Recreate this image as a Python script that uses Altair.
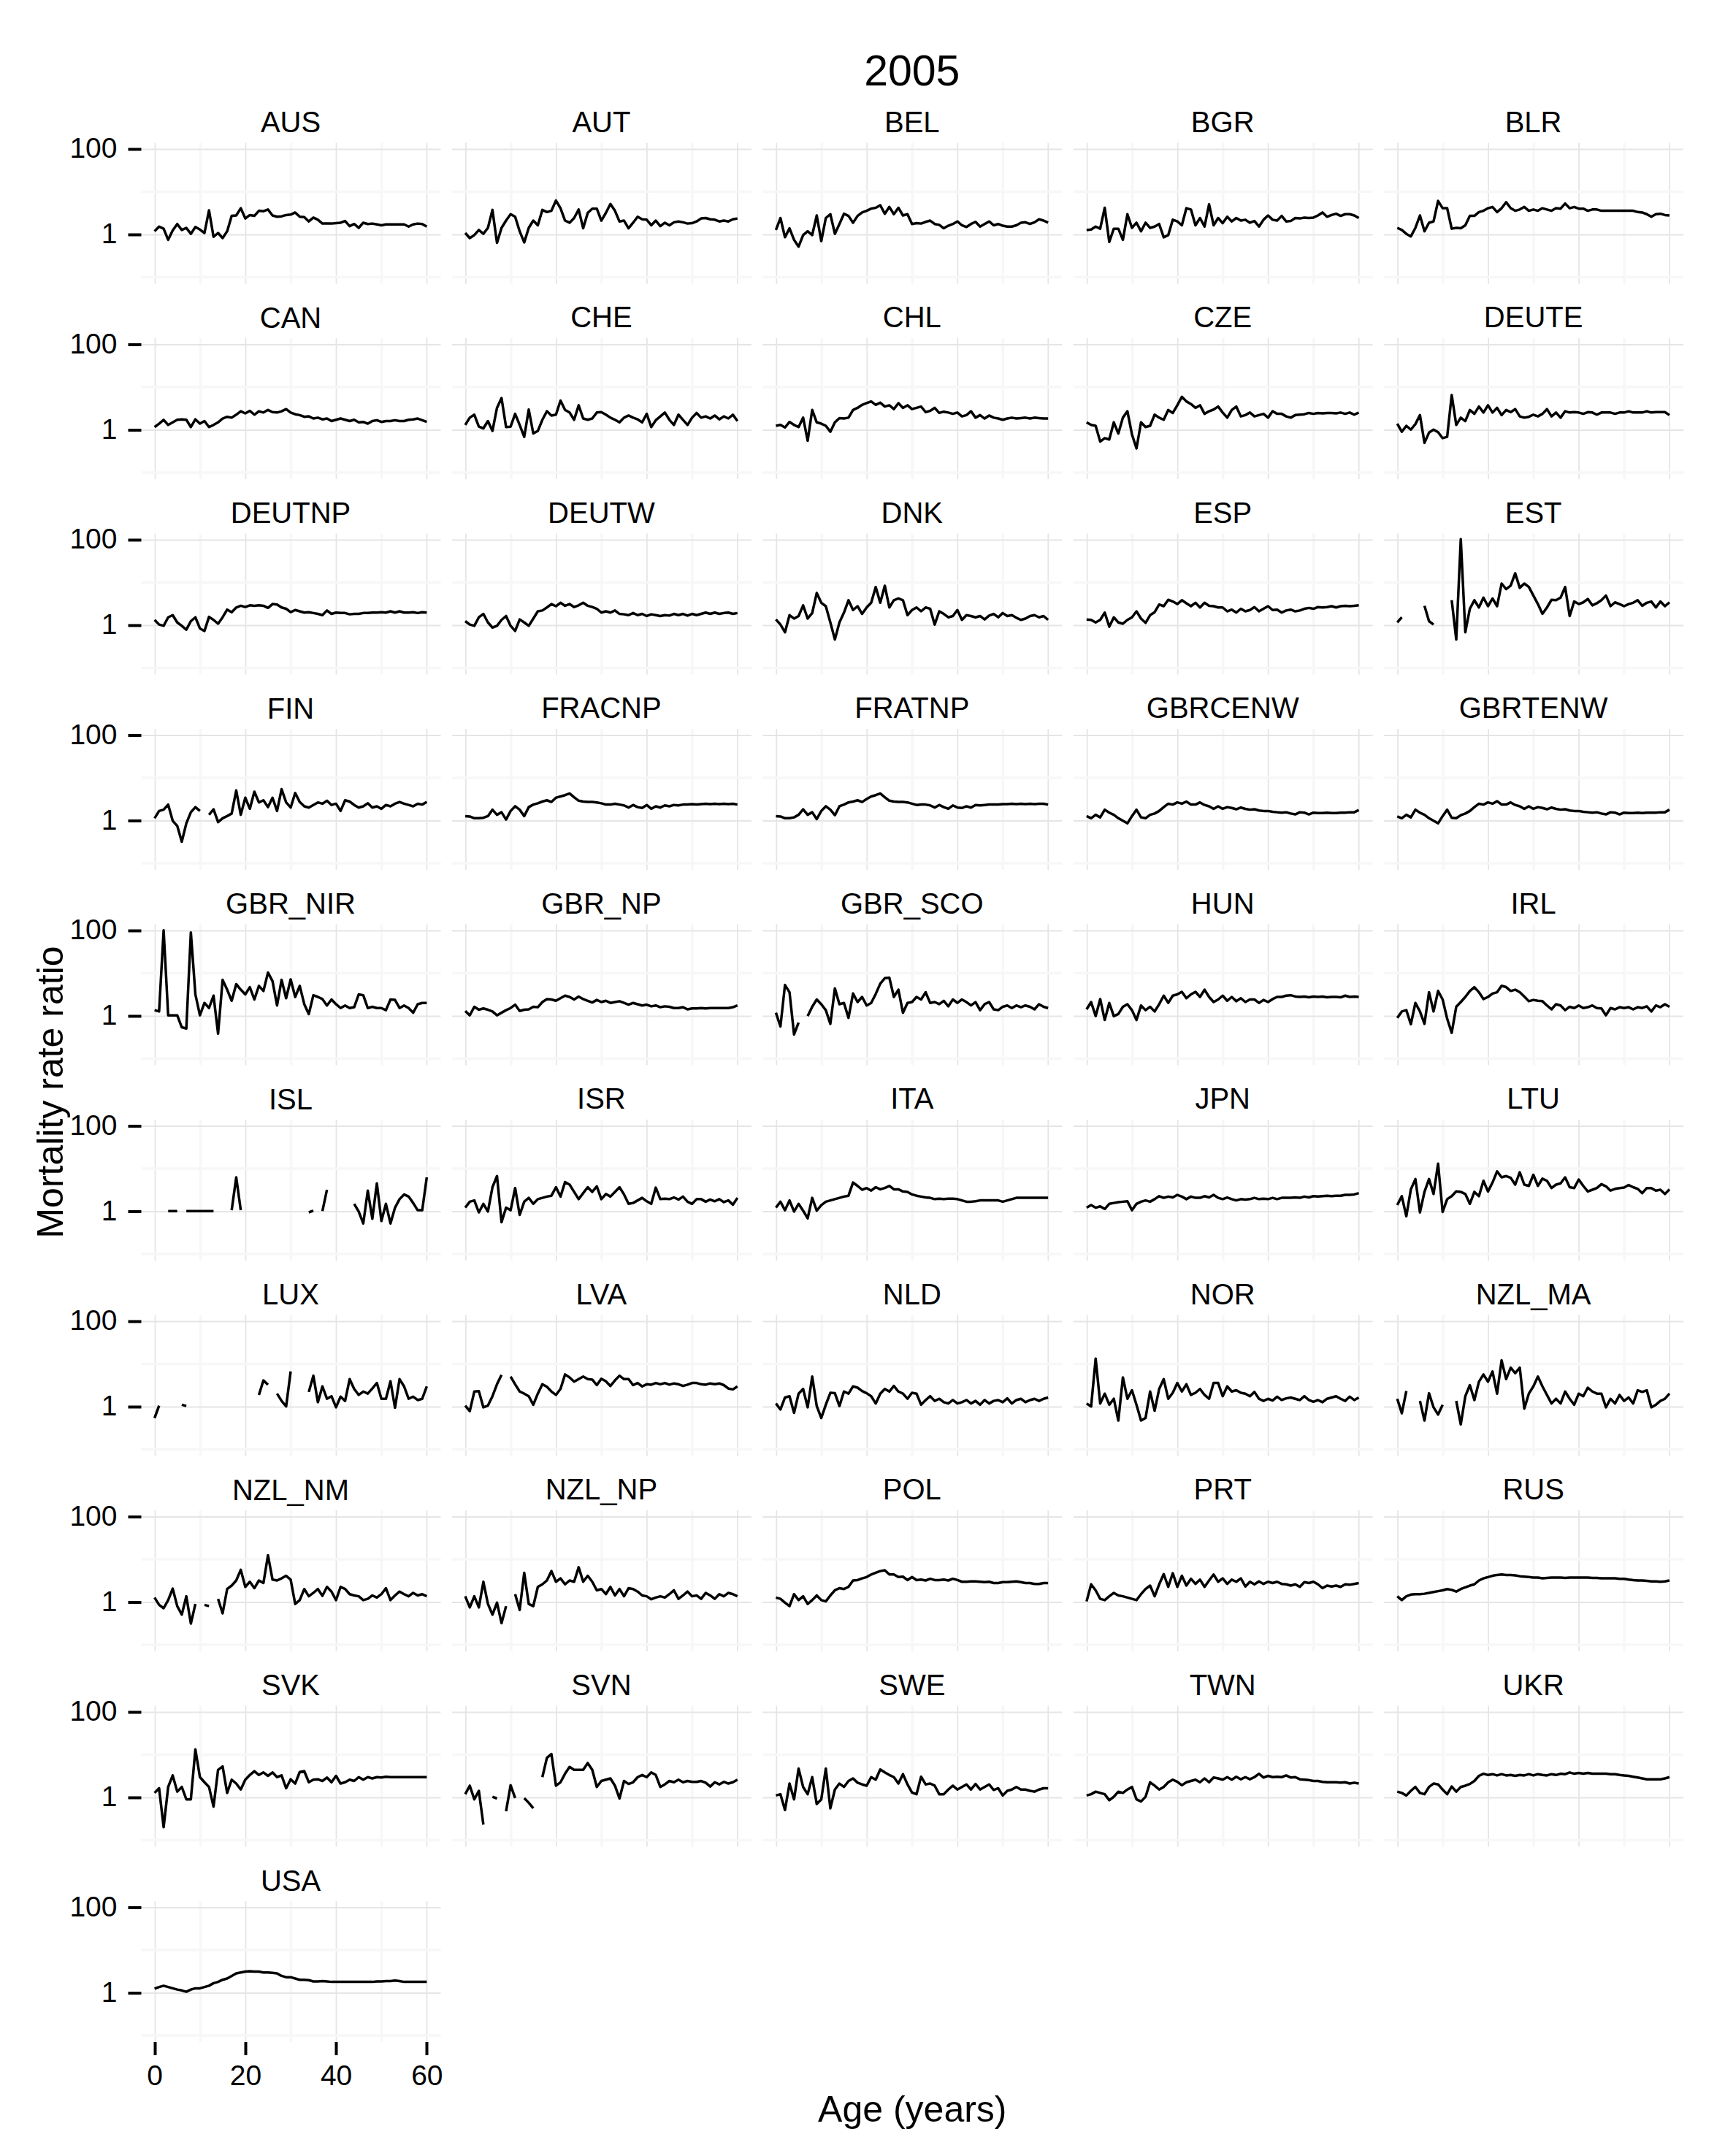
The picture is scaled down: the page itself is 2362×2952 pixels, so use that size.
import math
import altair as alt
import pandas as pd

title_text = "2005"
x_title = "Age (years)"
y_title = "Mortality rate ratio"

countries = ["AUS", "AUT", "BEL", "BGR", "BLR",
             "CAN", "CHE", "CHL", "CZE", "DEUTE",
             "DEUTNP", "DEUTW", "DNK", "ESP", "EST",
             "FIN", "FRACNP", "FRATNP", "GBRCENW", "GBRTENW",
             "GBR_NIR", "GBR_NP", "GBR_SCO", "HUN", "IRL",
             "ISL", "ISR", "ITA", "JPN", "LTU",
             "LUX", "LVA", "NLD", "NOR", "NZL_MA",
             "NZL_NM", "NZL_NP", "POL", "PRT", "RUS",
             "SVK", "SVN", "SWE", "TWN", "UKR",
             "USA"]
ages = list(range(0, 61))
x_major = [0, 20, 40, 60]
x_minor = [10, 30, 50]
y_major = [1, 100]
y_minor = [0.1, 10]
x_limits = [0, 60]
y_limits = [0.1, 100]

N = None
# log10 of the mortality rate ratio, ages 0..60 (None = missing)
AUS = [0.07, 0.18, 0.13, -0.13, 0.09, 0.24, 0.10, 0.15, 0.01, 0.17,
       0.11, 0.03, 0.56, -0.06, 0.03, -0.09, 0.07, 0.43, 0.44, 0.61,
       0.37, 0.45, 0.43, 0.55, 0.54, 0.58, 0.44, 0.41, 0.42, 0.45,
       0.46, 0.51, 0.41, 0.40, 0.30, 0.39, 0.34, 0.25, 0.25, 0.25,
       0.26, 0.27, 0.31, 0.19, 0.24, 0.15, 0.27, 0.24, 0.25, 0.23,
       0.21, 0.23, 0.23, 0.23, 0.23, 0.23, 0.18, 0.23, 0.25, 0.24,
       0.18]
AUT = [0.03, -0.09, -0.02, 0.10, 0.01, 0.15, 0.57, -0.20, 0.15, 0.32,
       0.47, 0.41, 0.07, -0.19, 0.15, 0.32, 0.21, 0.57, 0.52, 0.55,
       0.79, 0.61, 0.32, 0.27, 0.38, 0.58, 0.14, 0.50, 0.60, 0.60,
       0.32, 0.50, 0.71, 0.55, 0.30, 0.32, 0.14, 0.27, 0.41, 0.35,
       0.34, 0.21, 0.32, 0.19, 0.27, 0.21, 0.28, 0.30, 0.28, 0.25,
       0.26, 0.30, 0.37, 0.38, 0.35, 0.34, 0.30, 0.32, 0.30, 0.35,
       0.37]
BEL = [0.10, 0.38, -0.07, 0.14, -0.13, -0.29, -0.02, 0.07, -0.02, 0.44,
       -0.16, 0.38, 0.47, 0.01, 0.24, 0.48, 0.43, 0.27, 0.43, 0.51,
       0.55, 0.60, 0.62, 0.68, 0.48, 0.64, 0.47, 0.62, 0.44, 0.47,
       0.24, 0.26, 0.25, 0.29, 0.32, 0.24, 0.22, 0.14, 0.20, 0.24,
       0.30, 0.21, 0.17, 0.24, 0.29, 0.18, 0.24, 0.30, 0.21, 0.24,
       0.20, 0.18, 0.18, 0.21, 0.27, 0.28, 0.24, 0.28, 0.35, 0.32,
       0.27]
BGR = [0.10, 0.11, 0.18, 0.13, 0.62, -0.18, 0.13, 0.13, -0.13, 0.47,
       0.15, 0.27, 0.07, 0.27, 0.15, 0.18, 0.24, -0.07, -0.02, 0.34,
       0.30, 0.21, 0.61, 0.58, 0.21, 0.38, 0.18, 0.70, 0.21, 0.38,
       0.26, 0.41, 0.30, 0.38, 0.32, 0.34, 0.27, 0.31, 0.18, 0.34,
       0.44, 0.34, 0.32, 0.43, 0.30, 0.31, 0.38, 0.37, 0.39, 0.38,
       0.39, 0.44, 0.51, 0.41, 0.45, 0.48, 0.43, 0.47, 0.47, 0.44,
       0.38]
BLR = [0.15, 0.10, 0.01, -0.05, 0.15, 0.44, 0.07, 0.27, 0.30, 0.78,
       0.61, 0.61, 0.13, 0.15, 0.14, 0.21, 0.43, 0.43, 0.52, 0.55,
       0.61, 0.64, 0.52, 0.61, 0.75, 0.61, 0.55, 0.58, 0.64, 0.55,
       0.58, 0.55, 0.61, 0.58, 0.55, 0.61, 0.60, 0.72, 0.61, 0.64,
       0.60, 0.60, 0.55, 0.58, 0.58, 0.55, 0.55, 0.55, 0.55, 0.55,
       0.55, 0.55, 0.55, 0.52, 0.51, 0.47, 0.41, 0.47, 0.48, 0.45,
       0.44]
CAN = [0.06, 0.14, 0.23, 0.11, 0.17, 0.23, 0.24, 0.23, 0.06, 0.24,
       0.14, 0.20, 0.06, 0.11, 0.17, 0.26, 0.30, 0.28, 0.35, 0.43,
       0.38, 0.44, 0.35, 0.43, 0.40, 0.46, 0.41, 0.40, 0.43, 0.48,
       0.40, 0.36, 0.34, 0.30, 0.31, 0.26, 0.28, 0.24, 0.26, 0.20,
       0.23, 0.26, 0.23, 0.20, 0.23, 0.17, 0.18, 0.14, 0.20, 0.22,
       0.18, 0.20, 0.20, 0.22, 0.20, 0.20, 0.23, 0.24, 0.26, 0.22,
       0.18]
CHE = [0.11, 0.28, 0.35, 0.07, 0.03, 0.20, -0.03, 0.51, 0.74, 0.06,
       0.07, 0.37, 0.11, -0.17, 0.47, -0.09, -0.03, 0.23, 0.43, 0.33,
       0.35, 0.68, 0.46, 0.40, 0.23, 0.57, 0.26, 0.23, 0.26, 0.40,
       0.41, 0.35, 0.28, 0.23, 0.17, 0.28, 0.33, 0.28, 0.24, 0.17,
       0.37, 0.06, 0.22, 0.31, 0.40, 0.23, 0.11, 0.35, 0.23, 0.11,
       0.28, 0.39, 0.28, 0.31, 0.26, 0.33, 0.24, 0.31, 0.26, 0.35,
       0.20]
CHL = [0.09, 0.11, 0.05, 0.18, 0.11, 0.06, 0.28, -0.26, 0.46, 0.17,
       0.14, 0.09, -0.05, 0.17, 0.27, 0.26, 0.28, 0.46, 0.51, 0.58,
       0.62, 0.66, 0.58, 0.63, 0.54, 0.57, 0.48, 0.62, 0.51, 0.57,
       0.48, 0.51, 0.54, 0.41, 0.44, 0.51, 0.39, 0.42, 0.40, 0.37,
       0.40, 0.31, 0.34, 0.43, 0.28, 0.34, 0.26, 0.33, 0.28, 0.26,
       0.23, 0.26, 0.28, 0.26, 0.27, 0.28, 0.26, 0.28, 0.27, 0.26,
       0.26]
CZE = [0.17, 0.11, 0.09, -0.28, -0.20, -0.23, 0.17, -0.09, 0.28, 0.43,
       -0.11, -0.44, 0.17, 0.06, 0.09, 0.35, 0.28, 0.23, 0.46, 0.39,
       0.57, 0.77, 0.66, 0.60, 0.51, 0.57, 0.37, 0.43, 0.47, 0.54,
       0.40, 0.28, 0.46, 0.54, 0.31, 0.34, 0.40, 0.31, 0.34, 0.37,
       0.28, 0.43, 0.37, 0.37, 0.31, 0.28, 0.34, 0.35, 0.36, 0.39,
       0.37, 0.39, 0.38, 0.39, 0.39, 0.38, 0.40, 0.37, 0.40, 0.35,
       0.40]
DEUTE = [0.14, -0.05, 0.09, 0.00, 0.13, 0.34, -0.31, -0.07, 0.00, -0.06,
         -0.20, -0.17, 0.81, 0.11, 0.28, 0.20, 0.46, 0.37, 0.54, 0.40,
         0.57, 0.40, 0.51, 0.34, 0.46, 0.41, 0.48, 0.31, 0.28, 0.30,
         0.35, 0.31, 0.37, 0.48, 0.31, 0.40, 0.28, 0.43, 0.40, 0.41,
         0.40, 0.37, 0.41, 0.40, 0.35, 0.40, 0.40, 0.40, 0.37, 0.40,
         0.40, 0.43, 0.40, 0.40, 0.40, 0.43, 0.40, 0.41, 0.41, 0.41,
         0.34]
DEUTNP = [0.12, 0.01, -0.02, 0.18, 0.23, 0.06, -0.02, -0.11, 0.09, 0.18,
          -0.08, -0.14, 0.19, 0.12, 0.03, 0.18, 0.36, 0.30, 0.41, 0.45,
          0.42, 0.46, 0.45, 0.46, 0.45, 0.40, 0.49, 0.48, 0.41, 0.38,
          0.30, 0.35, 0.32, 0.29, 0.30, 0.28, 0.26, 0.23, 0.34, 0.26,
          0.29, 0.28, 0.28, 0.25, 0.26, 0.26, 0.28, 0.28, 0.29, 0.29,
          0.30, 0.29, 0.32, 0.29, 0.32, 0.29, 0.29, 0.30, 0.28, 0.30,
          0.29]
DEUTW = [0.09, 0.01, -0.02, 0.18, 0.26, 0.06, -0.06, -0.02, 0.12, 0.21,
         -0.02, -0.14, 0.13, 0.06, -0.02, 0.15, 0.32, 0.34, 0.41, 0.49,
         0.44, 0.52, 0.45, 0.49, 0.42, 0.46, 0.52, 0.45, 0.42, 0.38,
         0.29, 0.32, 0.29, 0.34, 0.26, 0.25, 0.23, 0.28, 0.23, 0.26,
         0.21, 0.25, 0.23, 0.21, 0.23, 0.22, 0.26, 0.23, 0.26, 0.22,
         0.26, 0.23, 0.26, 0.29, 0.26, 0.29, 0.26, 0.28, 0.29, 0.26,
         0.28]
DNK = [0.13, 0.01, -0.17, 0.23, 0.15, 0.21, 0.46, 0.15, 0.28, 0.75,
       0.52, 0.44, 0.06, -0.34, 0.06, 0.29, 0.58, 0.35, 0.44, 0.26,
       0.41, 0.52, 0.89, 0.52, 0.92, 0.41, 0.58, 0.62, 0.58, 0.23,
       0.35, 0.41, 0.32, 0.41, 0.38, 0.01, 0.32, 0.26, 0.18, 0.21,
       0.35, 0.12, 0.23, 0.21, 0.18, 0.21, 0.13, 0.22, 0.26, 0.18,
       0.28, 0.21, 0.23, 0.17, 0.12, 0.15, 0.21, 0.23, 0.18, 0.21,
       0.12]
ESP = [0.13, 0.12, 0.06, 0.12, 0.29, -0.04, 0.18, 0.06, 0.03, 0.12,
       0.18, 0.32, 0.15, 0.05, 0.23, 0.30, 0.48, 0.44, 0.59, 0.55,
       0.49, 0.58, 0.51, 0.44, 0.52, 0.41, 0.52, 0.45, 0.44, 0.41,
       0.41, 0.32, 0.36, 0.29, 0.38, 0.32, 0.35, 0.42, 0.32, 0.38,
       0.44, 0.35, 0.36, 0.29, 0.34, 0.36, 0.32, 0.34, 0.38, 0.40,
       0.38, 0.42, 0.41, 0.42, 0.44, 0.41, 0.44, 0.45, 0.44, 0.45,
       0.46]
EST = [0.06, 0.18, N, N, N, N, 0.45, 0.09, 0.01, N,
       N, N, 0.58, -0.34, 2.01, -0.17, 0.38, 0.58, 0.41, 0.64,
       0.44, 0.62, 0.44, 0.97, 0.84, 0.92, 1.21, 0.87, 0.97, 0.89,
       0.69, 0.49, 0.26, 0.41, 0.59, 0.58, 0.64, 0.89, 0.21, 0.55,
       0.49, 0.53, 0.61, 0.46, 0.51, 0.58, 0.69, 0.44, 0.53, 0.49,
       0.44, 0.49, 0.52, 0.58, 0.45, 0.52, 0.55, 0.41, 0.55, 0.44,
       0.53]
FIN = [0.05, 0.22, 0.25, 0.37, -0.01, -0.13, -0.50, -0.07, 0.19, 0.31,
       0.22, N, 0.13, 0.26, -0.04, 0.05, 0.10, 0.16, 0.70, 0.13,
       0.53, 0.27, 0.67, 0.42, 0.47, 0.31, 0.53, 0.22, 0.73, 0.42,
       0.30, 0.64, 0.43, 0.33, 0.30, 0.36, 0.42, 0.39, 0.46, 0.36,
       0.39, 0.22, 0.47, 0.44, 0.36, 0.30, 0.33, 0.40, 0.30, 0.33,
       0.27, 0.36, 0.33, 0.39, 0.43, 0.39, 0.36, 0.33, 0.39, 0.37,
       0.43]
FRACNP = [0.10, 0.09, 0.05, 0.05, 0.06, 0.10, 0.25, 0.13, 0.19, 0.02,
          0.22, 0.33, 0.25, 0.10, 0.31, 0.37, 0.40, 0.44, 0.47, 0.43,
          0.53, 0.56, 0.59, 0.63, 0.54, 0.46, 0.44, 0.43, 0.43, 0.42,
          0.40, 0.37, 0.37, 0.39, 0.37, 0.35, 0.30, 0.36, 0.31, 0.29,
          0.36, 0.27, 0.33, 0.30, 0.35, 0.33, 0.36, 0.35, 0.37, 0.37,
          0.38, 0.37, 0.38, 0.39, 0.38, 0.39, 0.38, 0.39, 0.38, 0.39,
          0.37]
FRATNP = [0.10, 0.09, 0.05, 0.05, 0.07, 0.13, 0.26, 0.13, 0.19, 0.03,
          0.22, 0.33, 0.25, 0.12, 0.33, 0.37, 0.42, 0.44, 0.47, 0.43,
          0.50, 0.56, 0.59, 0.63, 0.54, 0.46, 0.44, 0.43, 0.43, 0.42,
          0.39, 0.36, 0.37, 0.37, 0.35, 0.30, 0.36, 0.31, 0.27, 0.35,
          0.30, 0.29, 0.33, 0.30, 0.36, 0.35, 0.36, 0.37, 0.37, 0.37,
          0.38, 0.38, 0.39, 0.38, 0.39, 0.38, 0.39, 0.38, 0.39, 0.39,
          0.37]
GBRCENW = [0.10, 0.05, 0.13, 0.07, 0.25, 0.18, 0.13, 0.05, -0.01, -0.07,
           0.10, 0.25, 0.07, 0.05, 0.13, 0.16, 0.22, 0.31, 0.39, 0.37,
           0.42, 0.39, 0.44, 0.37, 0.37, 0.42, 0.36, 0.33, 0.27, 0.33,
           0.27, 0.31, 0.29, 0.26, 0.30, 0.27, 0.25, 0.26, 0.23, 0.22,
           0.22, 0.20, 0.19, 0.18, 0.19, 0.16, 0.14, 0.19, 0.18, 0.14,
           0.18, 0.17, 0.17, 0.18, 0.17, 0.17, 0.18, 0.18, 0.19, 0.19,
           0.24]
GBRTENW = [0.09, 0.05, 0.13, 0.07, 0.25, 0.18, 0.13, 0.05, -0.01, -0.07,
           0.10, 0.25, 0.06, 0.05, 0.12, 0.16, 0.22, 0.31, 0.39, 0.37,
           0.42, 0.39, 0.45, 0.37, 0.37, 0.42, 0.36, 0.33, 0.27, 0.33,
           0.27, 0.31, 0.29, 0.26, 0.30, 0.27, 0.25, 0.26, 0.23, 0.22,
           0.22, 0.20, 0.19, 0.18, 0.19, 0.16, 0.14, 0.19, 0.18, 0.14,
           0.18, 0.17, 0.17, 0.18, 0.17, 0.18, 0.18, 0.18, 0.19, 0.19,
           0.25]
GBR_NIR = [0.13, 0.10, 2.00, 0.01, 0.01, 0.01, -0.27, -0.30, 1.95, 0.50,
           0.01, 0.30, 0.18, 0.47, -0.42, 0.84, 0.61, 0.35, 0.74, 0.61,
           0.50, 0.67, 0.38, 0.70, 0.58, 1.01, 0.81, 0.24, 0.84, 0.41,
           0.85, 0.44, 0.70, 0.27, 0.04, 0.48, 0.44, 0.39, 0.24, 0.38,
           0.27, 0.18, 0.24, 0.18, 0.20, 0.50, 0.48, 0.18, 0.21, 0.18,
           0.18, 0.13, 0.38, 0.37, 0.18, 0.24, 0.18, 0.07, 0.27, 0.30,
           0.30]
GBR_NP = [0.11, 0.01, 0.21, 0.14, 0.17, 0.14, 0.10, 0.01, 0.07, 0.13,
          0.18, 0.26, 0.11, 0.14, 0.15, 0.21, 0.20, 0.32, 0.39, 0.38,
          0.35, 0.41, 0.47, 0.44, 0.38, 0.45, 0.39, 0.35, 0.31, 0.37,
          0.32, 0.35, 0.30, 0.32, 0.34, 0.30, 0.26, 0.30, 0.27, 0.24,
          0.26, 0.22, 0.24, 0.20, 0.22, 0.21, 0.18, 0.18, 0.20, 0.15,
          0.17, 0.17, 0.18, 0.17, 0.18, 0.18, 0.18, 0.18, 0.18, 0.20,
          0.24]
GBR_SCO = [0.07, -0.25, 0.72, 0.55, -0.44, -0.16, N, -0.01, 0.21, 0.38,
           0.27, 0.13, -0.19, 0.64, 0.27, 0.30, -0.05, 0.52, 0.32, 0.44,
           0.24, 0.30, 0.51, 0.75, 0.88, 0.89, 0.44, 0.61, 0.07, 0.30,
           0.32, 0.44, 0.38, 0.55, 0.30, 0.32, 0.27, 0.35, 0.22, 0.38,
           0.30, 0.38, 0.32, 0.24, 0.32, 0.13, 0.27, 0.32, 0.15, 0.13,
           0.21, 0.24, 0.18, 0.24, 0.20, 0.24, 0.21, 0.15, 0.27, 0.21,
           0.18]
HUN = [0.15, 0.32, -0.01, 0.39, -0.10, 0.30, -0.01, 0.04, 0.21, 0.27,
       0.13, -0.10, 0.24, 0.13, 0.21, 0.10, 0.27, 0.47, 0.30, 0.47,
       0.50, 0.56, 0.41, 0.50, 0.56, 0.44, 0.61, 0.44, 0.32, 0.38,
       0.47, 0.35, 0.44, 0.34, 0.41, 0.32, 0.38, 0.38, 0.30, 0.37,
       0.32, 0.39, 0.44, 0.44, 0.47, 0.48, 0.45, 0.44, 0.45, 0.43,
       0.45, 0.44, 0.45, 0.43, 0.44, 0.44, 0.43, 0.47, 0.44, 0.45,
       0.44]
IRL = [-0.05, 0.10, 0.13, -0.20, 0.30, 0.10, -0.19, 0.55, 0.10, 0.58,
       0.38, -0.07, -0.40, 0.21, 0.32, 0.44, 0.58, 0.67, 0.55, 0.39,
       0.44, 0.52, 0.55, 0.70, 0.67, 0.58, 0.61, 0.55, 0.45, 0.34,
       0.37, 0.35, 0.34, 0.24, 0.15, 0.27, 0.24, 0.13, 0.21, 0.18,
       0.24, 0.18, 0.20, 0.24, 0.18, 0.17, 0.01, 0.18, 0.15, 0.20,
       0.18, 0.20, 0.15, 0.20, 0.18, 0.22, 0.10, 0.24, 0.20, 0.27,
       0.21]
ISL = [N, N, N, 0.00, 0.00, 0.00, N, 0.00, 0.00, 0.00,
       0.00, 0.00, 0.00, 0.00, N, N, N, 0.02, 0.79, 0.02,
       N, N, N, N, N, N, N, N, N, N,
       N, N, N, N, -0.03, 0.01, N, 0.00, 0.50, N,
       N, N, N, N, 0.17, -0.01, -0.29, 0.48, -0.18, 0.65,
       -0.23, 0.17, -0.29, 0.08, 0.28, 0.39, 0.34, 0.19, 0.02, 0.02,
       0.79]
ISR = [0.08, 0.22, 0.25, -0.03, 0.17, -0.01, 0.56, 0.82, -0.26, 0.08,
       0.02, 0.54, -0.09, 0.22, 0.31, 0.17, 0.28, 0.31, 0.34, 0.36,
       0.56, 0.34, 0.68, 0.62, 0.45, 0.28, 0.42, 0.56, 0.45, 0.58,
       0.28, 0.40, 0.34, 0.45, 0.56, 0.39, 0.17, 0.19, 0.25, 0.31,
       0.23, 0.17, 0.55, 0.28, 0.29, 0.28, 0.32, 0.27, 0.34, 0.22,
       0.17, 0.28, 0.28, 0.22, 0.27, 0.23, 0.28, 0.21, 0.25, 0.15,
       0.31]
ITA = [0.08, 0.22, 0.02, 0.25, -0.01, 0.17, 0.01, -0.17, 0.31, 0.01,
       0.14, 0.22, 0.25, 0.28, 0.31, 0.34, 0.36, 0.67, 0.59, 0.50,
       0.54, 0.48, 0.56, 0.51, 0.54, 0.59, 0.51, 0.51, 0.46, 0.45,
       0.39, 0.36, 0.34, 0.32, 0.31, 0.28, 0.29, 0.28, 0.29, 0.29,
       0.28, 0.25, 0.22, 0.22, 0.23, 0.25, 0.25, 0.25, 0.25, 0.25,
       0.22, 0.25, 0.28, 0.31, 0.31, 0.31, 0.31, 0.31, 0.31, 0.31,
       0.31]
JPN = [0.08, 0.14, 0.08, 0.11, 0.05, 0.17, 0.19, 0.21, 0.22, 0.23,
       0.02, 0.17, 0.22, 0.25, 0.22, 0.28, 0.35, 0.31, 0.34, 0.32,
       0.38, 0.34, 0.28, 0.34, 0.31, 0.31, 0.35, 0.32, 0.38, 0.31,
       0.28, 0.32, 0.28, 0.25, 0.28, 0.27, 0.28, 0.31, 0.28, 0.29,
       0.28, 0.31, 0.28, 0.31, 0.31, 0.31, 0.32, 0.31, 0.34, 0.32,
       0.35, 0.34, 0.35, 0.36, 0.35, 0.36, 0.36, 0.38, 0.38, 0.39,
       0.42]
LTU = [0.14, 0.35, -0.12, 0.51, 0.75, -0.03, 0.45, 0.75, 0.40, 1.11,
       -0.02, 0.28, 0.35, 0.46, 0.45, 0.40, 0.17, 0.45, 0.35, 0.71,
       0.46, 0.67, 0.93, 0.79, 0.82, 0.78, 0.62, 0.91, 0.62, 0.59,
       0.85, 0.59, 0.76, 0.71, 0.54, 0.62, 0.65, 0.79, 0.56, 0.54,
       0.74, 0.59, 0.46, 0.50, 0.54, 0.63, 0.58, 0.48, 0.52, 0.54,
       0.55, 0.61, 0.56, 0.52, 0.42, 0.54, 0.54, 0.48, 0.50, 0.40,
       0.51]
LUX = [-0.27, 0.02, N, N, N, N, 0.04, 0.01, N, N,
       N, N, N, N, N, N, N, N, N, N,
       N, N, N, 0.27, 0.61, 0.51, N, 0.30, 0.13, 0.00,
       0.82, N, N, N, 0.34, 0.72, 0.10, 0.47, 0.18, 0.24,
       -0.02, 0.23, 0.13, 0.64, 0.41, 0.27, 0.35, 0.30, 0.42, 0.55,
       0.18, 0.18, 0.59, -0.03, 0.64, 0.47, 0.18, 0.23, 0.15, 0.18,
       0.47]
LVA = [0.02, -0.11, 0.35, 0.36, -0.02, 0.02, 0.24, 0.52, 0.74, N,
       0.70, 0.52, 0.35, 0.30, 0.24, 0.04, 0.30, 0.52, 0.46, 0.35,
       0.27, 0.41, 0.75, 0.68, 0.58, 0.64, 0.70, 0.64, 0.63, 0.50,
       0.65, 0.59, 0.48, 0.61, 0.72, 0.64, 0.64, 0.50, 0.55, 0.47,
       0.52, 0.51, 0.55, 0.52, 0.55, 0.51, 0.54, 0.52, 0.48, 0.51,
       0.55, 0.55, 0.52, 0.51, 0.54, 0.52, 0.54, 0.50, 0.42, 0.40,
       0.47]
NLD = [0.07, -0.07, 0.21, 0.24, -0.15, 0.30, 0.41, -0.02, 0.70, 0.01,
       -0.27, 0.04, 0.32, 0.31, 0.01, 0.35, 0.30, 0.47, 0.44, 0.36,
       0.31, 0.24, 0.07, 0.30, 0.41, 0.35, 0.48, 0.35, 0.30, 0.18,
       0.32, 0.30, 0.04, 0.15, 0.24, 0.13, 0.18, 0.10, 0.07, 0.15,
       0.07, 0.10, 0.15, 0.07, 0.13, 0.04, 0.15, 0.07, 0.13, 0.15,
       0.10, 0.19, 0.07, 0.15, 0.18, 0.10, 0.15, 0.18, 0.13, 0.18,
       0.21]
NOR = [0.07, 0.00, 1.12, 0.07, 0.30, 0.04, 0.18, -0.33, 0.68, 0.18,
       0.38, 0.04, -0.33, -0.27, 0.35, -0.10, 0.41, 0.64, 0.18, 0.32,
       0.55, 0.35, 0.52, 0.27, 0.32, 0.41, 0.27, 0.18, 0.55, 0.55,
       0.24, 0.47, 0.35, 0.38, 0.32, 0.30, 0.24, 0.34, 0.18, 0.13,
       0.18, 0.14, 0.23, 0.15, 0.19, 0.21, 0.18, 0.15, 0.24, 0.15,
       0.11, 0.15, 0.10, 0.18, 0.21, 0.24, 0.18, 0.13, 0.23, 0.15,
       0.21]
NZL_MA = [0.18, -0.16, 0.36, N, N, 0.13, -0.33, 0.31, -0.02, -0.19,
          0.04, N, N, 0.13, -0.42, 0.24, 0.50, 0.15, 0.58, 0.75,
          0.58, 0.82, 0.30, 1.08, 0.64, 0.91, 0.78, 0.91, -0.05, 0.30,
          0.47, 0.70, 0.47, 0.27, 0.07, 0.18, 0.07, 0.35, 0.18, 0.04,
          0.30, 0.24, 0.44, 0.35, 0.30, 0.30, -0.02, 0.18, 0.07, 0.27,
          0.13, 0.21, 0.07, 0.38, 0.34, 0.38, -0.02, 0.04, 0.13, 0.18,
          0.30]
NZL_NM = [0.10, -0.07, -0.15, 0.04, 0.31, -0.10, -0.30, 0.13, -0.51, -0.05,
          N, -0.07, -0.10, N, 0.07, -0.27, 0.30, 0.38, 0.50, 0.75,
          0.35, 0.47, 0.32, 0.50, 0.44, 1.09, 0.52, 0.50, 0.55, 0.61,
          0.52, -0.05, 0.04, 0.30, 0.13, 0.21, 0.30, 0.14, 0.35, 0.24,
          0.04, 0.35, 0.30, 0.18, 0.15, 0.13, 0.04, 0.07, 0.15, 0.10,
          0.18, 0.32, 0.04, 0.15, 0.24, 0.18, 0.13, 0.21, 0.15, 0.18,
          0.13]
NZL_NP = [0.13, -0.13, 0.13, -0.13, 0.47, -0.05, -0.30, -0.02, -0.50, -0.10,
          N, 0.18, -0.19, 0.68, -0.05, -0.10, 0.35, 0.41, 0.50, 0.72,
          0.47, 0.55, 0.41, 0.50, 0.47, 0.81, 0.47, 0.61, 0.47, 0.27,
          0.30, 0.18, 0.35, 0.15, 0.30, 0.13, 0.32, 0.30, 0.24, 0.15,
          0.13, 0.06, 0.10, 0.13, 0.10, 0.18, 0.27, 0.07, 0.15, 0.24,
          0.13, 0.15, 0.07, 0.21, 0.15, 0.07, 0.18, 0.13, 0.21, 0.18,
          0.13]
POL = [0.10, 0.07, -0.02, -0.10, 0.18, 0.04, 0.13, -0.05, 0.04, 0.15,
       0.04, 0.01, 0.15, 0.27, 0.32, 0.30, 0.35, 0.50, 0.51, 0.55,
       0.58, 0.64, 0.68, 0.72, 0.74, 0.64, 0.64, 0.58, 0.59, 0.51,
       0.58, 0.51, 0.52, 0.50, 0.54, 0.51, 0.51, 0.52, 0.50, 0.54,
       0.51, 0.47, 0.47, 0.48, 0.48, 0.47, 0.46, 0.47, 0.44, 0.44,
       0.46, 0.46, 0.47, 0.48, 0.46, 0.44, 0.44, 0.42, 0.42, 0.44,
       0.44]
PRT = [0.01, 0.41, 0.27, 0.07, 0.04, 0.13, 0.21, 0.15, 0.13, 0.10,
       0.07, 0.04, 0.18, 0.30, 0.38, 0.13, 0.41, 0.65, 0.35, 0.67,
       0.35, 0.61, 0.38, 0.54, 0.42, 0.52, 0.35, 0.50, 0.64, 0.47,
       0.55, 0.42, 0.52, 0.47, 0.55, 0.36, 0.47, 0.41, 0.48, 0.42,
       0.47, 0.44, 0.47, 0.42, 0.41, 0.38, 0.41, 0.35, 0.46, 0.44,
       0.47, 0.41, 0.32, 0.38, 0.36, 0.38, 0.35, 0.41, 0.40, 0.42,
       0.44]
RUS = [0.13, 0.04, 0.13, 0.17, 0.18, 0.18, 0.19, 0.21, 0.23, 0.25,
       0.27, 0.30, 0.28, 0.24, 0.30, 0.34, 0.38, 0.41, 0.50, 0.55,
       0.58, 0.61, 0.63, 0.64, 0.63, 0.63, 0.62, 0.60, 0.59, 0.58,
       0.57, 0.57, 0.55, 0.56, 0.57, 0.57, 0.57, 0.56, 0.57, 0.57,
       0.57, 0.57, 0.57, 0.56, 0.56, 0.55, 0.55, 0.55, 0.55, 0.54,
       0.54, 0.52, 0.51, 0.50, 0.50, 0.49, 0.48, 0.48, 0.47, 0.48,
       0.50]
SVK = [0.10, 0.21, -0.70, 0.24, 0.51, 0.13, 0.24, -0.05, -0.05, 1.12,
       0.47, 0.35, 0.24, -0.22, 0.64, 0.72, 0.10, 0.41, 0.32, 0.18,
       0.41, 0.52, 0.61, 0.52, 0.58, 0.50, 0.58, 0.47, 0.51, 0.21,
       0.42, 0.32, 0.59, 0.61, 0.35, 0.41, 0.42, 0.38, 0.46, 0.35,
       0.50, 0.32, 0.35, 0.41, 0.38, 0.47, 0.41, 0.47, 0.44, 0.47,
       0.46, 0.48, 0.47, 0.47, 0.47, 0.47, 0.47, 0.47, 0.47, 0.47,
       0.47]
SVN = [0.07, 0.27, -0.05, 0.15, -0.64, N, 0.01, -0.03, N, -0.33,
       0.28, -0.02, N, -0.02, -0.13, -0.26, N, 0.47, 0.92, 1.01,
       0.27, 0.35, 0.55, 0.71, 0.64, 0.64, 0.64, 0.80, 0.64, 0.24,
       0.38, 0.41, 0.44, 0.27, -0.03, 0.38, 0.31, 0.35, 0.47, 0.52,
       0.47, 0.58, 0.52, 0.24, 0.30, 0.38, 0.35, 0.41, 0.35, 0.38,
       0.36, 0.36, 0.38, 0.34, 0.25, 0.35, 0.30, 0.36, 0.32, 0.35,
       0.41]
SWE = [0.04, 0.07, -0.30, 0.32, -0.05, 0.67, 0.24, 0.07, 0.47, -0.16,
       -0.05, 0.67, -0.26, 0.18, 0.32, 0.24, 0.38, 0.44, 0.34, 0.30,
       0.27, 0.47, 0.41, 0.65, 0.58, 0.52, 0.47, 0.32, 0.54, 0.30,
       0.11, 0.07, 0.48, 0.30, 0.32, 0.27, 0.07, 0.07, 0.18, 0.27,
       0.18, 0.24, 0.30, 0.18, 0.31, 0.18, 0.24, 0.30, 0.17, 0.21,
       0.04, 0.15, 0.18, 0.24, 0.18, 0.18, 0.15, 0.13, 0.18, 0.21,
       0.21]
TWN = [0.04, 0.07, 0.13, 0.10, 0.07, -0.07, 0.01, 0.13, 0.10, 0.18,
       0.24, -0.05, -0.10, 0.01, 0.35, 0.27, 0.18, 0.24, 0.35, 0.41,
       0.36, 0.28, 0.35, 0.38, 0.41, 0.35, 0.44, 0.35, 0.46, 0.44,
       0.41, 0.47, 0.41, 0.48, 0.42, 0.47, 0.42, 0.47, 0.55, 0.46,
       0.50, 0.47, 0.48, 0.47, 0.51, 0.46, 0.47, 0.42, 0.41, 0.40,
       0.38, 0.38, 0.36, 0.35, 0.35, 0.35, 0.34, 0.35, 0.32, 0.34,
       0.32]
UKR = [0.13, 0.10, 0.04, 0.15, 0.24, 0.10, 0.07, 0.24, 0.32, 0.30,
       0.18, 0.07, 0.25, 0.13, 0.24, 0.27, 0.31, 0.38, 0.50, 0.55,
       0.52, 0.54, 0.51, 0.54, 0.51, 0.52, 0.50, 0.52, 0.51, 0.54,
       0.51, 0.54, 0.52, 0.51, 0.54, 0.52, 0.55, 0.54, 0.58, 0.55,
       0.57, 0.55, 0.57, 0.55, 0.55, 0.55, 0.55, 0.54, 0.54, 0.52,
       0.51, 0.50, 0.48, 0.46, 0.44, 0.42, 0.42, 0.42, 0.42, 0.44,
       0.47]
USA = [0.09, 0.13, 0.16, 0.13, 0.10, 0.07, 0.05, 0.02, 0.07, 0.10,
       0.10, 0.13, 0.16, 0.22, 0.25, 0.30, 0.33, 0.39, 0.45, 0.47,
       0.49, 0.50, 0.49, 0.49, 0.47, 0.47, 0.46, 0.45, 0.39, 0.36,
       0.36, 0.33, 0.30, 0.30, 0.29, 0.26, 0.26, 0.27, 0.26, 0.25,
       0.25, 0.25, 0.25, 0.25, 0.25, 0.25, 0.25, 0.25, 0.25, 0.26,
       0.26, 0.27, 0.27, 0.28, 0.27, 0.25, 0.25, 0.25, 0.25, 0.25,
       0.25]

log10_ratio = {
    "AUS": AUS, "AUT": AUT, "BEL": BEL, "BGR": BGR, "BLR": BLR,
    "CAN": CAN, "CHE": CHE, "CHL": CHL, "CZE": CZE, "DEUTE": DEUTE,
    "DEUTNP": DEUTNP, "DEUTW": DEUTW, "DNK": DNK, "ESP": ESP, "EST": EST,
    "FIN": FIN, "FRACNP": FRACNP, "FRATNP": FRATNP, "GBRCENW": GBRCENW, "GBRTENW": GBRTENW,
    "GBR_NIR": GBR_NIR, "GBR_NP": GBR_NP, "GBR_SCO": GBR_SCO, "HUN": HUN, "IRL": IRL,
    "ISL": ISL, "ISR": ISR, "ITA": ITA, "JPN": JPN, "LTU": LTU,
    "LUX": LUX, "LVA": LVA, "NLD": NLD, "NOR": NOR, "NZL_MA": NZL_MA,
    "NZL_NM": NZL_NM, "NZL_NP": NZL_NP, "POL": POL, "PRT": PRT, "RUS": RUS,
    "SVK": SVK, "SVN": SVN, "SWE": SWE, "TWN": TWN, "UKR": UKR,
    "USA": USA,
}

records = []
for c in countries:
    vals = log10_ratio[c]
    for a, v in zip(ages, vals):
        records.append({"country": c, "age": a,
                        "ratio": (10 ** v) if v is not None else None})
df = pd.DataFrame(records)

# ggplot-like 5% expansion of the limits
ex = 0.05 * (x_limits[1] - x_limits[0])
x_domain = [x_limits[0] - ex, x_limits[1] + ex]
ly0, ly1 = math.log10(y_limits[0]), math.log10(y_limits[1])
ey = 0.05 * (ly1 - ly0)
y_domain = [10 ** (ly0 - ey), 10 ** (ly1 + ey)]

FONT = "Liberation Sans"
GRID_MAJOR = "#E5E5E5"
GRID_MINOR = "#F7F7F7"
PW, PH = 410, 193
COL_SP = 15.4
STRIP_FS = 40
TICK_FS = 39
AXT_FS = 50
x_is_major = "indexof(%s, datum.value) >= 0" % str(x_major)
y_is_major = "indexof(%s, datum.value) >= 0" % str(y_major)


def cond(test, a, b):
    return {"condition": {"test": test, "value": a}, "value": b}


def make_panel(i, c):
    first_col = (i % 5 == 0)
    is_usa = (c == "USA")
    xa = dict(values=sorted(x_major + x_minor), grid=True, domain=False,
              gridColor=cond(x_is_major, GRID_MAJOR, GRID_MINOR),
              gridWidth=cond(x_is_major, 1.8, 3.5),
              labels=is_usa, ticks=is_usa, title=None)
    if is_usa:
        xa.update(labelExpr="%s ? datum.label : ''" % x_is_major,
                  tickColor=cond(x_is_major, "black", "transparent"),
                  tickSize=18, tickWidth=4, labelPadding=10, labelFlush=False,
                  labelFont=FONT, labelFontSize=TICK_FS, labelColor="black",
                  title=x_title, titleX=(5 * PW + 4 * COL_SP) / 2, titleY=109,
                  titleAlign="center", titleBaseline="alphabetic", titleFont=FONT,
                  titleFontSize=AXT_FS, titleFontWeight="normal", titleColor="black")
    ya = dict(values=sorted(y_minor + y_major), grid=True, domain=False,
              gridColor=cond(y_is_major, GRID_MAJOR, GRID_MINOR),
              gridWidth=cond(y_is_major, 1.8, 3.5),
              labels=first_col, ticks=first_col, title=None)
    if first_col:
        ya.update(labelExpr="%s ? datum.label : ''" % y_is_major, format="d",
                  tickColor=cond(y_is_major, "black", "transparent"),
                  tickSize=18, tickWidth=4, labelPadding=15, labelOverlap=False,
                  labelFont=FONT, labelFontSize=TICK_FS, labelColor="black")
    if i == 20:
        ya.update(title=y_title, titleX=-108, titleY=230, titleAngle=270,
                  titleAlign="center", titleBaseline="alphabetic", titleFont=FONT,
                  titleFontSize=AXT_FS, titleFontWeight="normal", titleColor="black")
    return (
        alt.Chart()
        .transform_filter(alt.datum.country == c)
        .mark_line(color="black", strokeWidth=3.5, strokeJoin="round", clip=True)
        .encode(
            x=alt.X("age:Q", scale=alt.Scale(domain=x_domain, nice=False, zero=False),
                    axis=alt.Axis(**xa)),
            y=alt.Y("ratio:Q", scale=alt.Scale(type="log", domain=y_domain, nice=False),
                    axis=alt.Axis(**ya)),
        )
        .properties(
            width=PW, height=PH,
            title=alt.TitleParams(c, font=FONT, fontSize=STRIP_FS, fontWeight="normal",
                                  color="black", anchor="middle", frame="group",
                                  offset=(-4.4 if first_col else 6.3)),
        )
    )


panels = [make_panel(i, c) for i, c in enumerate(countries)]

chart = (
    alt.concat(*panels, columns=5, spacing={"row": 74.5, "column": COL_SP},
               bounds="flush", data=df,
               title=alt.TitleParams(title_text, font=FONT, fontSize=59, fontWeight="normal",
                                     color="black", anchor="middle", frame="group",
                                     dx=(5 * PW + 4 * COL_SP) / 2, offset=19.7))
    .properties(padding={"left": 44, "top": 70, "right": 20, "bottom": 20})
    .configure_view(strokeWidth=0)
)

chart.save("out.html", embed_options={"renderer": "svg", "actions": False})
